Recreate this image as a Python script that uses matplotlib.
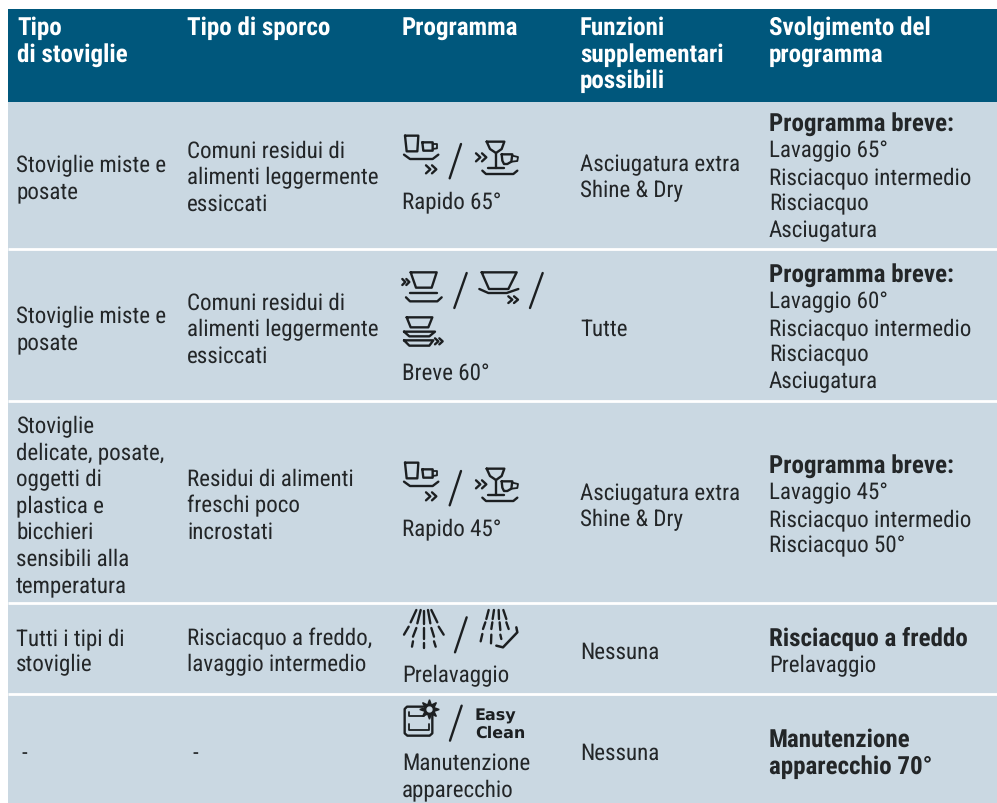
import matplotlib
matplotlib.use('Agg')
import matplotlib.pyplot as plt
from matplotlib.patches import Rectangle

plt.rcParams['font.family'] = ['Roboto Condensed', 'Liberation Sans', 'DejaVu Sans']
plt.rcParams['text.hinting'] = 'no_hinting'
plt.rcParams['text.hinting_factor'] = 1

# Table content
headers = [['Tipo', 'di stoviglie'], ['Tipo di sporco'], ['Programma'],
           ['Funzioni', 'supplementari', 'possibili'], ['Svolgimento del', 'programma']]
col_dishes = [['Stoviglie miste e', 'posate'], ['Stoviglie miste e', 'posate'],
              ['Stoviglie', 'delicate, posate,', 'oggetti di', 'plastica e', 'bicchieri',
               'sensibili alla', 'temperatura'],
              ['Tutti i tipi di', 'stoviglie'], ['-']]
col_soil = [['Comuni residui di', 'alimenti leggermente', 'essiccati'],
            ['Comuni residui di', 'alimenti leggermente', 'essiccati'],
            ['Residui di alimenti', 'freschi poco', 'incrostati'],
            ['Risciacquo a freddo,', 'lavaggio intermedio'], ['-']]
col_prog = [['Rapido 65°'], ['Breve 60°'], ['Rapido 45°'], ['Prelavaggio'],
            ['Manutenzione', 'apparecchio']]
col_extra = [['Asciugatura extra', 'Shine & Dry'], ['Tutte'],
             ['Asciugatura extra', 'Shine & Dry'], ['Nessuna'], ['Nessuna']]
col_bold = [['Programma breve:'], ['Programma breve:'], ['Programma breve:'],
            ['Risciacquo a freddo'], ['Manutenzione', 'apparecchio 70°']]
col_steps = [['Lavaggio 65°', 'Risciacquo intermedio', 'Risciacquo', 'Asciugatura'],
             ['Lavaggio 60°', 'Risciacquo intermedio', 'Risciacquo', 'Asciugatura'],
             ['Lavaggio 45°', 'Risciacquo intermedio', 'Risciacquo 50°'],
             ['Prelavaggio'], []]

# Layout in pixels
col_x = [16, 187, 402, 580, 769]
row_edges = [103, 250, 402, 604, 695, 804]
y_dishes = [172, 323, 433, 645, 760]
y_soil = [158, 310, 486, 645, 760]
y_prog = [208, 380, 535, 682, 770]
y_extra = [171, 336, 500, 659, 760]
y_steps = [131, 282, 473, 646, 747]
line_h = 26.5

BLUE = '#00577c'
ROW = '#cad8e2'
INK = '#232628'
ICON = '#1c1f21'
FS = 16.7
FS_BOLD = 17.8

fig = plt.figure(figsize=(9.97, 8.04), dpi=100)
ax = fig.add_axes([0, 0, 1, 1])
ax.set_xlim(0, 997)
ax.set_ylim(804, 0)
ax.axis('off')

ax.add_patch(Rectangle((8, 10), 989, 93, color=BLUE, lw=0))
ax.add_patch(Rectangle((8, 103), 989, 701, color=ROW, lw=0))
for y in row_edges[1:-1]:
    ax.plot([8, 997], [y, y], color='white', lw=2, solid_capstyle='butt')


def put(lines, x, y, **kw):
    for i, s in enumerate(lines):
        ax.text(x, y + i * line_h, s, va='baseline', ha='left', fontsize=kw.get('fs', FS),
                color=kw.get('color', INK), fontweight=kw.get('weight', 'normal'))


for x, h in zip(col_x, headers):
    put(h, x + (1 if x == col_x[0] else 0), 35, color='white', weight='bold', fs=FS_BOLD)
for i in range(5):
    put(col_dishes[i], col_x[0] + (5 if i == 4 else 0), y_dishes[i])
    put(col_soil[i], col_x[1] + (5 if i == 4 else 0), y_soil[i])
    put(col_prog[i], col_x[2], y_prog[i])
    put(col_extra[i], col_x[3], y_extra[i])
    put(col_bold[i], col_x[4], y_steps[i], weight='bold', fs=FS_BOLD)
    put(col_steps[i], col_x[4], y_steps[i] + len(col_bold[i]) * line_h)


# Icons, drawn in units of 1/3 pixel from an origin
def stroke(ox, oy, pts, lw=1.7):
    ax.plot([ox + p[0] / 3 for p in pts], [oy + p[1] / 3 for p in pts], color=ICON, lw=lw,
            solid_capstyle='round', solid_joinstyle='round')


def chevrons(ox, oy, x, y, w=13, h=12, gap=18):
    for k in (0, gap):
        stroke(ox, oy, [(x + k, y - h), (x + k + w, y), (x + k, y + h)], lw=1.7)


def glass_cup_right(ox, oy):
    stroke(ox, oy, [(45, 50), (85, 50), (82, 97), (50, 97), (45, 50)])
    stroke(ox, oy, [(97, 70), (128, 70), (128, 95), (100, 95), (97, 70)])
    stroke(ox, oy, [(128, 75), (141, 75), (141, 88), (128, 90)], lw=1.3)
    stroke(ox, oy, [(42, 107), (60, 120), (128, 120), (145, 107)])
    chevrons(ox, oy, 108, 151)
    stroke(ox, oy, [(213, 75), (179, 178)], lw=1.7)


def wine_cup_left(ox, oy):
    chevrons(ox, oy, 258, 115)
    stroke(ox, oy, [(290, 68), (343, 68), (335, 90), (318, 102), (300, 90), (290, 68)])
    stroke(ox, oy, [(318, 102), (318, 148)])
    stroke(ox, oy, [(295, 148), (342, 148)])
    stroke(ox, oy, [(335, 106), (367, 106), (364, 128), (352, 135), (342, 135), (337, 125), (335, 106)])
    stroke(ox, oy, [(367, 110), (384, 114), (382, 126), (365, 128)], lw=1.3)
    stroke(ox, oy, [(277, 155), (288, 165), (370, 165), (382, 155)])


for oy in (120, 447):
    glass_cup_right(390, oy)
    wine_cup_left(390, oy)

# Row 2 icons
ox, oy = 390, 260
chevrons(ox, oy, 37, 69, w=9, h=9, gap=12)
stroke(ox, oy, [(62, 40), (140, 40), (125, 86), (78, 86), (62, 40)])
stroke(ox, oy, [(60, 103), (140, 103)])
stroke(ox, oy, [(48, 115), (60, 127), (142, 127), (155, 115)])
stroke(ox, oy, [(230, 42), (193, 147)])
stroke(ox, oy, [(275, 40), (380, 40), (355, 90), (297, 90), (275, 40)])
stroke(ox, oy, [(268, 90), (295, 102), (350, 102), (385, 90)])
chevrons(ox, oy, 355, 122, w=12, h=10, gap=17)
stroke(ox, oy, [(458, 42), (420, 147)])
stroke(ox, oy, [(50, 175), (127, 175), (115, 205), (62, 205), (50, 175)])
stroke(ox, oy, [(42, 218), (135, 218), (118, 232), (58, 232), (42, 218)])
stroke(ox, oy, [(42, 244), (130, 244), (118, 260), (58, 260), (42, 244)])
chevrons(ox, oy, 135, 247, w=10, h=9, gap=13)

# Row 4 icons
ox, oy = 398, 605
spray_a = [((55, 18), (38, 55)), ((68, 18), (58, 58)), ((78, 22), (78, 60)), ((90, 18), (97, 58)),
           ((100, 18), (118, 55)), ((32, 68), (18, 92)), ((55, 72), (45, 98)), ((78, 72), (78, 105)),
           ((100, 72), (108, 98)), ((122, 68), (137, 92)), ((45, 112), (42, 128)),
           ((78, 118), (78, 132)), ((108, 112), (113, 128))]
spray_b = [((272, 18), (265, 45)), ((288, 18), (284, 45)), ((302, 18), (303, 45)), ((316, 18), (325, 45)),
           ((262, 55), (255, 75)), ((283, 55), (280, 75)), ((305, 55), (307, 78)), ((325, 55), (332, 75)),
           ((253, 90), (248, 112)), ((280, 92), (279, 118)), ((307, 92), (310, 105))]
for a, b in spray_a + spray_b:
    stroke(ox, oy, [a, b], lw=1.7)
stroke(ox, oy, [(206, 40), (171, 145)])
stroke(ox, oy, [(295, 125), (315, 130), (358, 85), (355, 70)], lw=1.8)

# Row 5 icons
ox, oy = 398, 695
stroke(ox, oy, [(75, 38), (27, 38), (20, 45), (20, 118), (28, 125), (95, 125), (103, 118), (103, 62)])
stroke(ox, oy, [(33, 55), (33, 65), (78, 65)], lw=1.3)
stroke(ox, oy, [(33, 90), (33, 108), (92, 108), (92, 90)], lw=1.3)
ax.plot(ox + 92 / 3, oy + 45 / 3, marker=(8, 1, 0), ms=14, mfc=ICON, mec=ICON, lw=0)
ax.plot(ox + 92 / 3, oy + 45 / 3, marker='o', ms=3.5, mfc=ROW, mec=ROW)
stroke(390, 600, [(215, 320), (180, 425)])
ax.text(475, 720.5, 'Easy', fontsize=11.5, fontweight='bold', family=['DejaVu Sans'], color=ICON)
ax.text(475, 737.5, 'Clean', fontsize=11.5, fontweight='bold', family=['DejaVu Sans'], color=ICON)

fig.savefig('out.png', dpi=100)
